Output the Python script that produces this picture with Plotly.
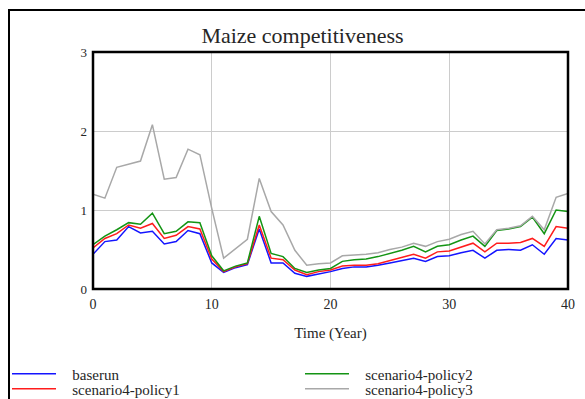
import plotly.graph_objects as go

# Simulation time (years)
years = list(range(0, 41))

baserun = [0.44, 0.60, 0.62, 0.79, 0.71, 0.73, 0.57, 0.60, 0.74, 0.70,
           0.33, 0.21, 0.27, 0.31, 0.76, 0.33, 0.33, 0.20, 0.16, 0.19,
           0.22, 0.26, 0.28, 0.28, 0.30, 0.33, 0.36, 0.39, 0.35, 0.41,
           0.42, 0.46, 0.49, 0.39, 0.49, 0.50, 0.49, 0.56, 0.44, 0.64, 0.62]

policy1 = [0.52, 0.64, 0.70, 0.81, 0.77, 0.83, 0.64, 0.68, 0.79, 0.76,
           0.38, 0.22, 0.28, 0.32, 0.81, 0.39, 0.37, 0.24, 0.18, 0.22,
           0.24, 0.29, 0.30, 0.30, 0.32, 0.36, 0.40, 0.44, 0.39, 0.47,
           0.48, 0.53, 0.58, 0.47, 0.58, 0.58, 0.59, 0.64, 0.54, 0.79, 0.77]

policy2 = [0.56, 0.67, 0.75, 0.84, 0.82, 0.96, 0.70, 0.73, 0.85, 0.84,
           0.42, 0.23, 0.29, 0.33, 0.92, 0.45, 0.41, 0.26, 0.21, 0.24,
           0.26, 0.35, 0.37, 0.38, 0.41, 0.45, 0.49, 0.54, 0.47, 0.54,
           0.56, 0.62, 0.67, 0.54, 0.74, 0.76, 0.79, 0.91, 0.70, 1.00, 0.98]

policy3 = [1.20, 1.15, 1.54, 1.58, 1.62, 2.08, 1.39, 1.41, 1.77, 1.70,
           1.02, 0.39, 0.51, 0.63, 1.40, 0.98, 0.81, 0.49, 0.30, 0.32,
           0.33, 0.42, 0.43, 0.44, 0.46, 0.50, 0.53, 0.58, 0.54, 0.60,
           0.63, 0.69, 0.73, 0.57, 0.75, 0.77, 0.80, 0.92, 0.75, 1.16, 1.21]

series_names = ["baserun", "scenario4-policy1", "scenario4-policy2", "scenario4-policy3"]
series_values = [baserun, policy1, policy2, policy3]
series_colors = ["#1414ff", "#ff1c1c", "#149414", "#a8a8a8"]

FONT = "Times New Roman, Liberation Serif, DejaVu Serif, serif"
TEXT = "#262626"

W, H = 585, 399
L, R, T, B = 93, 17, 52, 110
pw, ph = W - L - R, H - T - B


def px_to_paper_x(px):
    return (px - L) / pw


def px_to_paper_y(py):
    return (H - B - py) / ph


# legend entry placement (left edge, row centre) in pixels, one legend per entry
legend_slots = [(7, 374), (7, 389), (300, 374), (300, 389)]
legend_ids = ["legend", "legend2", "legend3", "legend4"]

fig = go.Figure()
for name, vals, color, lid in zip(series_names, series_values, series_colors, legend_ids):
    fig.add_trace(go.Scatter(
        x=years, y=vals, name="\u00a0\u00a0\u00a0" + name, mode="lines",
        line=dict(color=color, width=1.5),
        legend=lid,
    ))

legend_layout = {}
for lid, (lx, ly) in zip(legend_ids, legend_slots):
    legend_layout[lid] = dict(
        x=px_to_paper_x(lx), y=px_to_paper_y(ly),
        xanchor="left", yanchor="middle", orientation="v",
        font=dict(family=FONT, size=15, color=TEXT),
        bgcolor="rgba(0,0,0,0)", borderwidth=0, itemwidth=44,
    )

fig.update_layout(
    width=W, height=H,
    margin=dict(l=L, r=R, t=T, b=B, autoexpand=False),
    paper_bgcolor="white", plot_bgcolor="white",
    font=dict(family=FONT, size=14, color=TEXT),
    title=dict(text="Maize competitiveness", x=302.5 / W,
               xanchor="center", y=1 - 35 / H, yanchor="middle",
               font=dict(family=FONT, size=22, color=TEXT)),
    showlegend=True,
    **legend_layout,
    xaxis=dict(range=[0, 40], tickvals=[0, 10, 20, 30, 40],
               showgrid=True, gridcolor="#cccccc", gridwidth=1.2,
               zeroline=False, showline=False, ticks="", ticklabelstandoff=5,
               tickfont=dict(family=FONT, size=14, color=TEXT),
               title=dict(text="Time (Year)", standoff=16,
                          font=dict(family=FONT, size=15, color=TEXT))),
    yaxis=dict(range=[0, 3], tickvals=[0, 1, 2, 3],
               showgrid=True, gridcolor="#cccccc", gridwidth=1.2,
               zeroline=False, showline=False, ticks="", ticklabelstandoff=5,
               tickfont=dict(family=FONT, size=13, color=TEXT)),
)

# Black box around the plotting area
fig.add_shape(type="rect", xref="x domain", yref="y domain",
              x0=0, x1=1, y0=0, y1=1,
              line=dict(color="black", width=2.5), fillcolor="rgba(0,0,0,0)",
              layer="above")

# Outer frame around the whole chart panel
fig.add_shape(type="rect", xref="paper", yref="paper",
              x0=px_to_paper_x(9), x1=px_to_paper_x(620),
              y0=px_to_paper_y(430), y1=px_to_paper_y(10),
              line=dict(color="black", width=2), fillcolor="rgba(0,0,0,0)",
              layer="below")

fig.write_html("out.html")
